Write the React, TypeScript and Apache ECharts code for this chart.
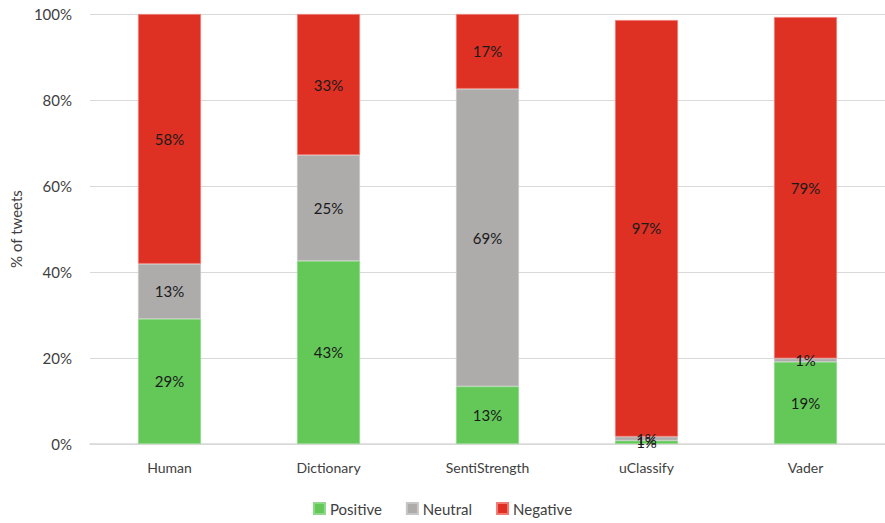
import React, { useEffect, useRef } from "react";
import * as echarts from "echarts";

const categories = ["Human", "Dictionary", "SentiStrength", "uClassify", "Vader"];
const positive = [29.1, 42.6, 13.4, 0.8, 19.1];
const neutral = [12.8, 24.6, 69.2, 0.9, 0.8];
const negative = [58.1, 32.8, 17.4, 96.9, 79.4];
const yTicks = [0, 20, 40, 60, 80, 100];

const FONT = "Lato, 'Open Sans', sans-serif";

export default function App() {
  const ref = useRef<HTMLDivElement>(null);
  useEffect(() => {
    if (!ref.current) return;
    const chart = echarts.init(ref.current, undefined, { renderer: "svg" });
    const label = {
      show: true,
      position: "inside" as const,
      color: "#1a1a1a",
      fontSize: 15,
      fontFamily: FONT,
      formatter: (p: any) => Math.round(p.value) + "%",
    };
    const mk = (name: string, data: number[], color: string, border: string) => ({
      name,
      type: "bar" as const,
      stack: "total",
      data,
      barWidth: 63,
      itemStyle: { color, borderColor: border, borderWidth: 0.8 },
      label,
    });
    chart.setOption({
      animation: false,
      textStyle: { fontFamily: FONT },
      grid: { left: 90, right: 0, top: 14, bottom: 79 },
      legend: {
        bottom: 2,
        left: "center",
        itemWidth: 11,
        itemHeight: 11,
        itemGap: 24,
        icon: "rect",
        textStyle: { fontSize: 15, color: "#404040", fontFamily: FONT },
        data: ["Positive", "Neutral", "Negative"],
      },
      xAxis: {
        type: "category",
        data: categories,
        axisLine: { lineStyle: { color: "#d9d9d9", width: 1.5 } },
        axisTick: { show: false },
        axisLabel: { fontSize: 14, color: "#404040", margin: 16, fontFamily: FONT },
      },
      yAxis: {
        type: "value",
        min: yTicks[0],
        max: yTicks[yTicks.length - 1],
        interval: 20,
        name: "% of tweets",
        nameLocation: "middle",
        nameGap: 62,
        nameTextStyle: { fontSize: 15, color: "#404040", fontFamily: FONT },
        axisLabel: { formatter: "{value}%", fontSize: 15, color: "#404040", margin: 18, fontFamily: FONT },
        splitLine: { lineStyle: { color: "#d9d9d9", width: 1 } },
        axisLine: { show: false },
        axisTick: { show: false },
      },
      series: [
        mk("Positive", positive, "#64C859", "#8fd88a"),
        mk("Neutral", neutral, "#AEABAB", "#c8c5c5"),
        mk("Negative", negative, "#DE3124", "#f07a74"),
      ],
    });
    return () => chart.dispose();
  }, []);
  return <div ref={ref} style={{ width: 885, height: 523, position: "absolute", left: 0, top: 0 }} />;
}
